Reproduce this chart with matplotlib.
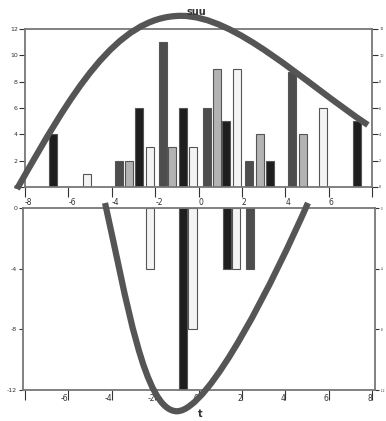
import matplotlib.pyplot as plt
from matplotlib.patches import PathPatch
from matplotlib.path import Path

# top panel bars (x position, height)
top_dark_x = [-3.65, -1.64, 0.39, 2.32, 4.33]
top_dark_h = [2, 11, 6, 2, 8.7]
top_light_x = [-3.21, -1.20, 0.85, 2.83, 4.83]
top_light_h = [2, 3, 9, 4, 4]
top_black_x = [-6.69, -2.75, -0.70, 1.26, 3.29, 7.30]
top_black_h = [4, 6, 6, 5, 2, 5]
top_white_x = [-5.14, -2.22, -0.26, 1.77, 5.73]
top_white_h = [1, 3, 3, 9, 6]

# bottom panel bars
bot_black_x = [-0.72, 1.29]
bot_black_h = [-12, -4]
bot_white_x = [-2.26, -0.28, 1.72]
bot_white_h = [-4, -8, -4]
bot_dark_x = [2.37]
bot_dark_h = [-4]

# hand-drawn curves as cubic bezier control points (start, c, c, end, c, c, end)
arch_pts = [(-8.37, -0.15), (-5.87, 7.1), (-3.8, 13.0), (-0.8, 13.0),
            (1.7, 13.0), (4.81, 8.01), (7.81, 4.71)]
bowl_pts = [(-4.31, 0.33), (-3.31, -6.07), (-2.5, -13.4), (-1.0, -13.4),
            (0.5, -13.4), (3.54, -4.55), (5.04, 0.33)]

top_yticks = [0, 2, 4, 6, 8, 10, 12]
bot_yticks = [0, -4, -8, -12]
xticks = [-8, -6, -4, -2, 0, 2, 4, 6, 8]

DARK = "#4d4d4d"
LIGHT = "#b3b3b3"
BLACK = "#1e1e1e"
WHITE = "#f4f4f4"
SPINE = "#777777"
CURVE = "#555555"
W = 0.37

fig = plt.figure(figsize=(3.86, 4.21), dpi=100)
ax1 = fig.add_axes([25 / 386, 1 - 187 / 421, 347 / 386, 158 / 421])
ax2 = fig.add_axes([23 / 386, 1 - 390 / 421, 352 / 386, 182 / 421])

for xs, hs, col in [(top_dark_x, top_dark_h, DARK), (top_light_x, top_light_h, LIGHT),
                    (top_black_x, top_black_h, BLACK), (top_white_x, top_white_h, WHITE)]:
    ax1.bar(xs, hs, width=W, color=col, edgecolor="#555555", linewidth=0.8)
for xs, hs, col in [(bot_black_x, bot_black_h, BLACK), (bot_white_x, bot_white_h, WHITE),
                    (bot_dark_x, bot_dark_h, DARK)]:
    ax2.bar(xs, hs, width=W, color=col, edgecolor="#555555", linewidth=0.8)

codes = [Path.MOVETO] + [Path.CURVE4] * 6
for ax, pts in ((ax1, arch_pts), (ax2, bowl_pts)):
    ax.add_patch(PathPatch(Path(pts, codes), facecolor="none", edgecolor=CURVE,
                           linewidth=4.5, capstyle="butt", clip_on=False, zorder=5))

ax1.set_xlim(-8, 8)
ax1.set_ylim(0, 12)
ax2.set_xlim(-8.09, 8.13)
ax2.set_ylim(-12, 0)

ax1.set_yticks(top_yticks)
ax1.set_yticklabels([str(v) for v in top_yticks])
ax2.set_yticks(bot_yticks)
ax2.set_yticklabels([str(v) for v in bot_yticks])

for ax in (ax1, ax2):
    for s in ax.spines.values():
        s.set_color(SPINE)
        s.set_linewidth(1.3)
    ax.tick_params(colors="#333333", labelsize=4.5, length=4, width=0.8,
                   right=True, labelright=True)
    ax.tick_params(axis="y", pad=1.2)
    # right-hand labels sit against the picture edge, keep them tiny
    for t in ax.yaxis.get_major_ticks():
        t.label2.set_fontsize(2.5)
ax2.tick_params(axis="y", which="major", length=3)
for t in ax2.yaxis.get_major_ticks():
    t.label2.set_fontsize(2)

ax1.set_xticks(xticks)
ax1.set_xticklabels([str(v) for v in xticks[:-1]] + [""], fontsize=5.5)
for lab in ax1.get_xticklabels():
    lab.set_horizontalalignment("left")
ax1.tick_params(axis="x", length=7, pad=1)

ax2.set_xticks(xticks)
ax2.set_xticklabels([""] + [str(v) for v in xticks[1:]], fontsize=5.5)
for lab in ax2.get_xticklabels():
    lab.set_horizontalalignment("right")
ax2.tick_params(axis="x", length=7, pad=-4)

fig.text(196 / 386, 1 - 12 / 421, "suu", ha="center", va="center",
         fontsize=7, fontweight="bold", color="#333333")
fig.text(200 / 386, 1 - 414 / 421, "t", ha="center", va="center",
         fontsize=7, fontweight="bold", color="#333333")

fig.savefig("out.png", dpi=100)
